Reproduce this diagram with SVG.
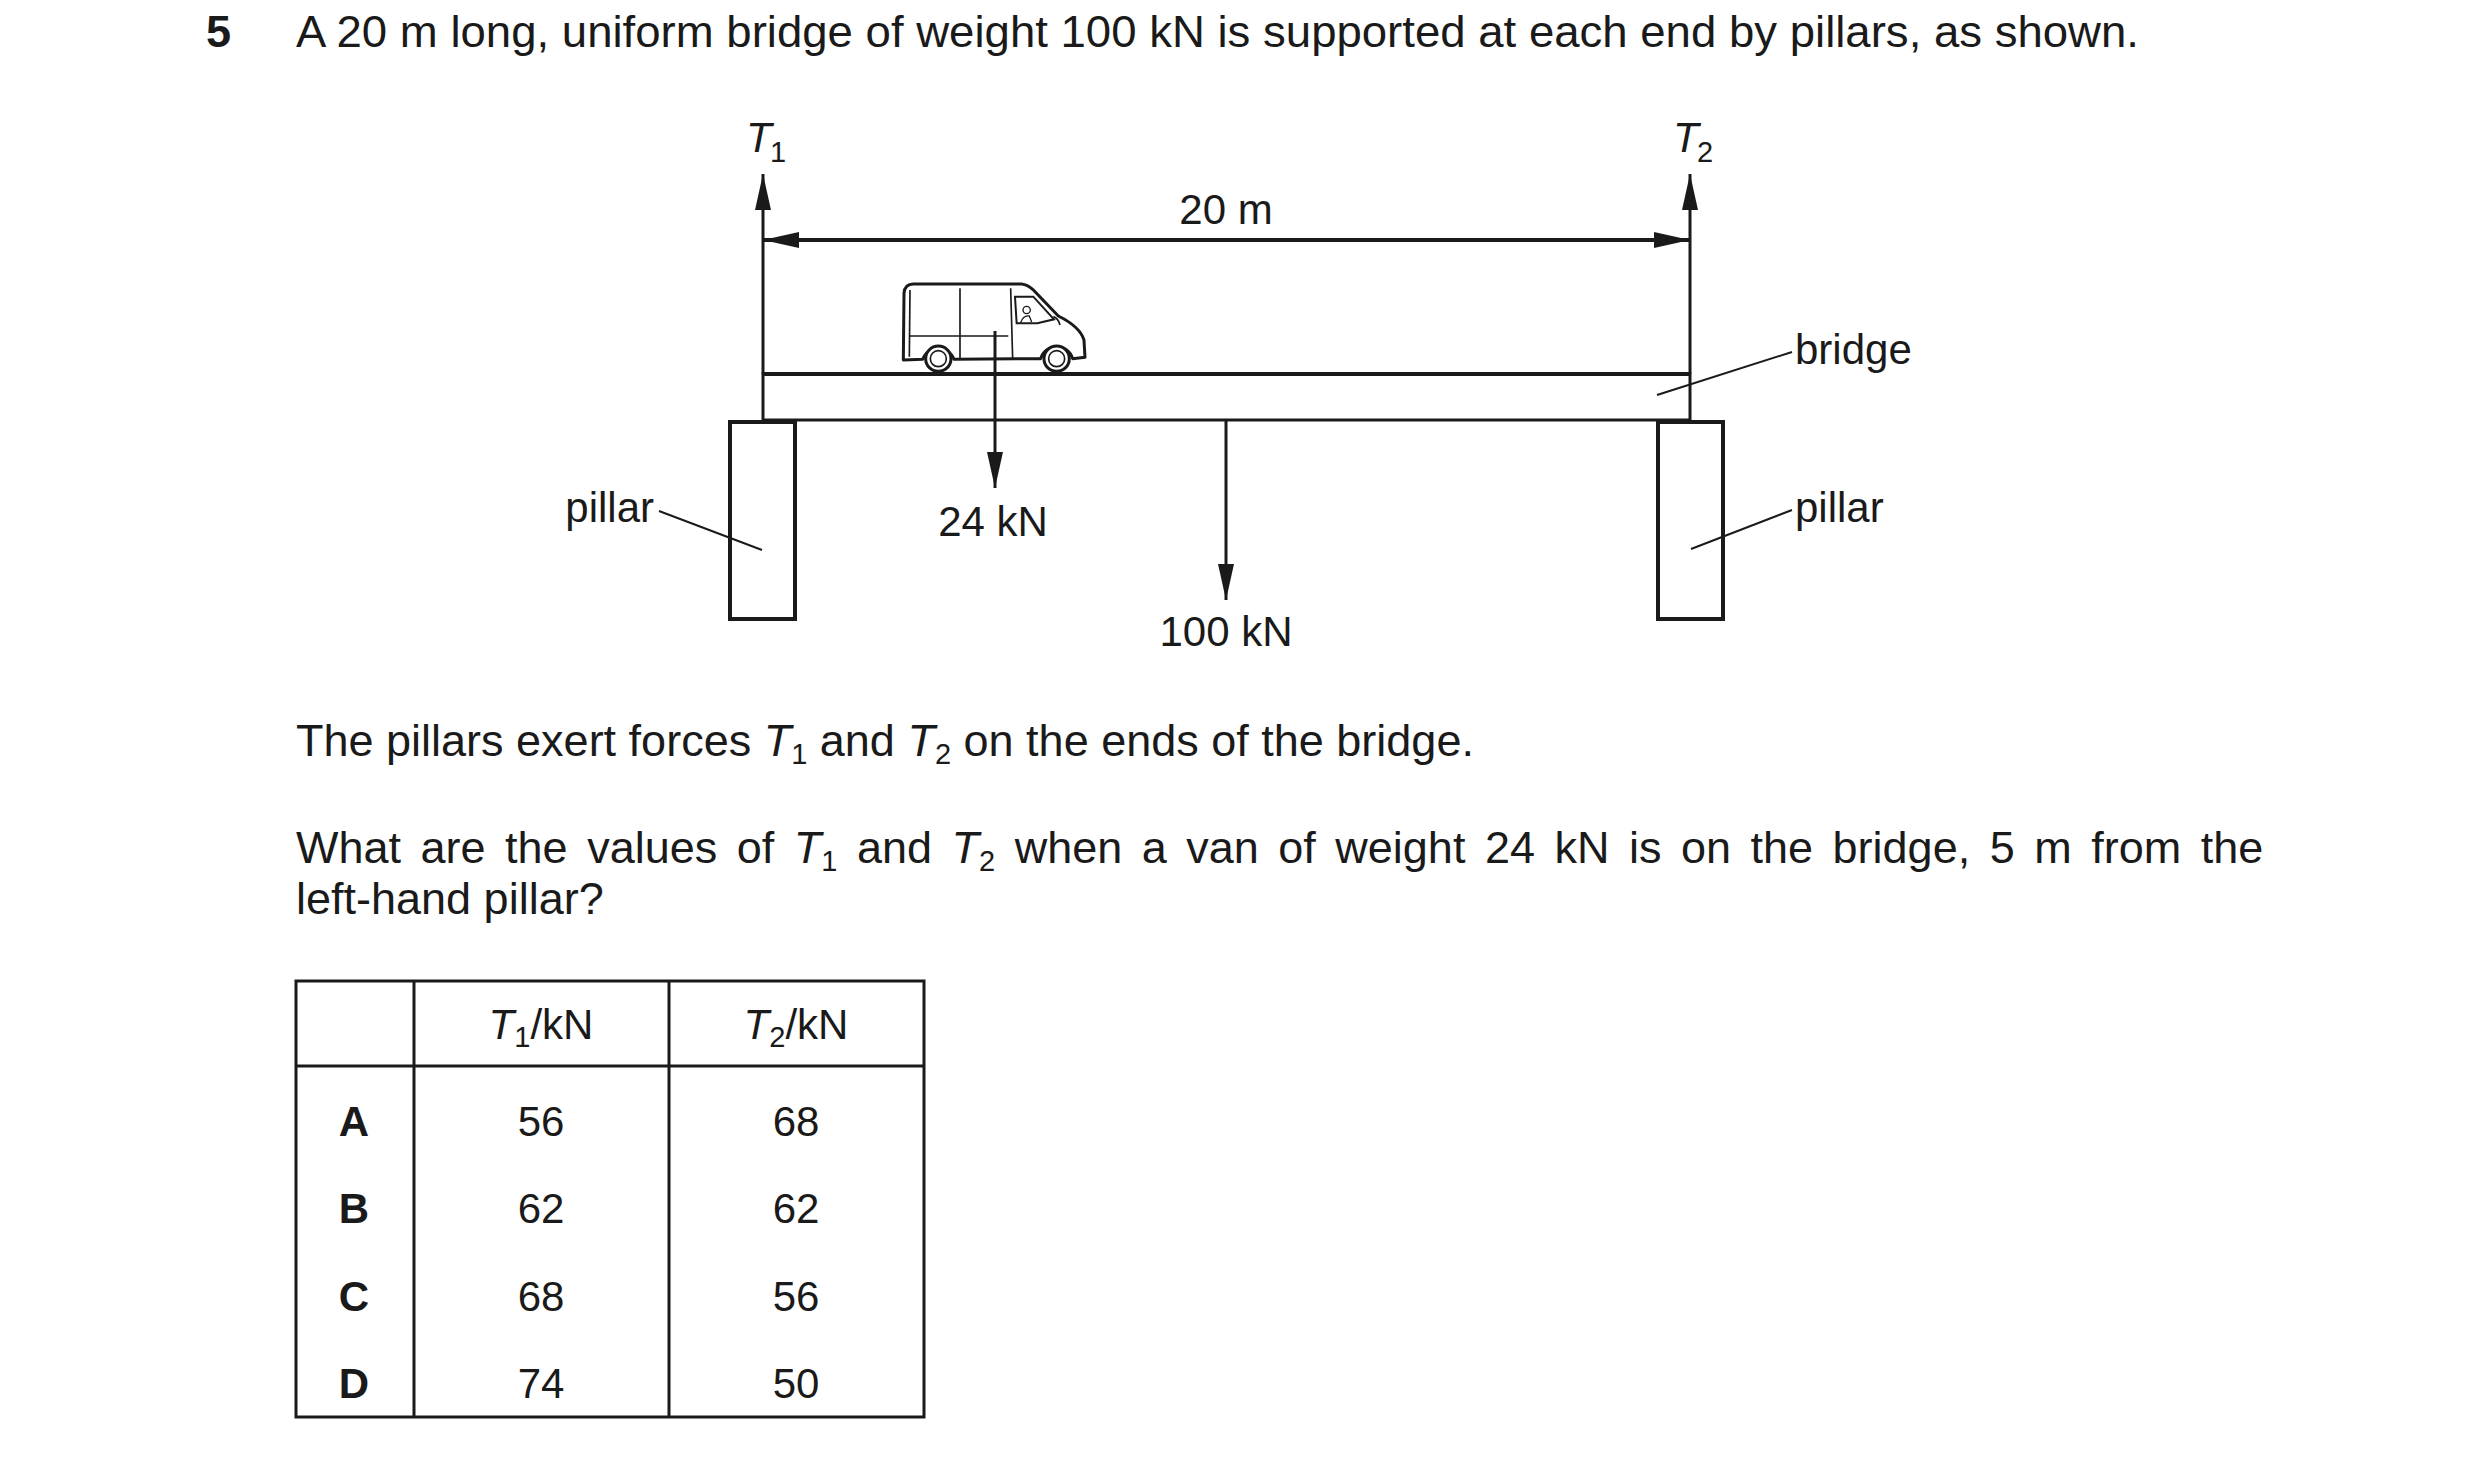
<svg xmlns="http://www.w3.org/2000/svg" width="2480" height="1458" viewBox="0 0 2480 1458">
<style>
text{font-family:"Liberation Sans",Arial,sans-serif;font-size:42px;fill:#1a1a1a}
.p{font-size:45px}
.b{font-weight:bold}
.m{text-anchor:middle}
.i{font-style:italic}
.s{font-size:29px}
.ln{stroke:#1a1a1a;stroke-width:3;fill:none}
.th{stroke:#1a1a1a;stroke-width:4;fill:none}
</style>
<defs>
<marker id="ah" markerWidth="36" markerHeight="16" refX="36" refY="8" orient="auto-start-reverse" markerUnits="userSpaceOnUse" viewBox="0 0 36 16">
<path d="M0 0 L36 8 L0 16 Z" fill="#1a1a1a"/>
</marker>
</defs>
<rect width="2480" height="1458" fill="#fff"/>
<text x="206" y="47" class="b p">5</text>
<text x="296" y="47" class="p" textLength="1843" lengthAdjust="spacingAndGlyphs">A 20 m long, uniform bridge of weight 100 kN is supported at each end by pillars, as shown.</text>

<g id="bridge">
<rect x="763" y="374" width="927" height="46" class="ln"/>
<line x1="763" y1="374" x2="1690" y2="374" class="th"/>
</g>
<g id="pillar-left"><rect x="730" y="422" width="65" height="197" class="th"/></g>
<g id="pillar-right"><rect x="1658" y="422" width="65" height="197" class="th"/></g>
<g id="van" transform="translate(880,260) scale(0.3333)">
<path d="M70 300 L72 100 Q74 72 100 72 L425 72 Q442 74 458 88 L535 168 Q600 200 612 240 L615 292 L578 296 A50 50 0 0 0 482 296 L222 298 A50 50 0 0 0 128 298 Z" fill="#fff" stroke="#1a1a1a" stroke-width="9" stroke-linejoin="round"/>
<path d="M90 90 L88 290" stroke="#1a1a1a" stroke-width="5" fill="none"/>
<path d="M240 85 L240 298 M392 85 L398 296 M88 228 L385 228" stroke="#1a1a1a" stroke-width="5" fill="none"/>
<path d="M405 110 L460 110 L522 178 L472 190 L410 190 Z" fill="#fff" stroke="#1a1a1a" stroke-width="6"/>
<circle cx="440" cy="150" r="11" fill="none" stroke="#1a1a1a" stroke-width="4"/>
<path d="M422 188 Q430 165 448 168 L455 186" fill="none" stroke="#1a1a1a" stroke-width="4"/>
<path d="M520 170 Q535 175 540 195" fill="none" stroke="#1a1a1a" stroke-width="5"/>
<circle cx="175" cy="296" r="38" fill="#fff" stroke="#1a1a1a" stroke-width="9"/>
<circle cx="175" cy="296" r="24" fill="#fff" stroke="#1a1a1a" stroke-width="5"/>
<circle cx="530" cy="296" r="38" fill="#fff" stroke="#1a1a1a" stroke-width="9"/>
<circle cx="530" cy="296" r="24" fill="#fff" stroke="#1a1a1a" stroke-width="5"/>
</g>
<g id="connectors">
<line x1="763" y1="374" x2="763" y2="174" class="ln" marker-end="url(#ah)"/>
<line x1="1690" y1="374" x2="1690" y2="174" class="ln" marker-end="url(#ah)"/>
<line x1="763" y1="240" x2="1690" y2="240" class="th" marker-start="url(#ah)" marker-end="url(#ah)"/>
<line x1="995" y1="331" x2="995" y2="488" class="ln" marker-end="url(#ah)"/>
<line x1="1226" y1="420" x2="1226" y2="600" class="ln" marker-end="url(#ah)"/>
<line x1="1657" y1="395" x2="1792" y2="352" stroke="#1a1a1a" stroke-width="2"/>
<line x1="1691" y1="549" x2="1792" y2="510" stroke="#1a1a1a" stroke-width="2"/>
<line x1="659" y1="511" x2="762" y2="550" stroke="#1a1a1a" stroke-width="2"/>
</g>
<text x="746" y="152" class="i">T</text><text x="770" y="162" class="s">1</text>
<text x="1673" y="152" class="i">T</text><text x="1697" y="162" class="s">2</text>
<text x="1226" y="224" class="m">20 m</text>
<text x="993" y="536" class="m">24 kN</text>
<text x="1226" y="646" class="m">100 kN</text>
<text x="1795" y="364">bridge</text>
<text x="1795" y="522">pillar</text>
<text x="654" y="522" text-anchor="end">pillar</text>

<text x="296" y="756" class="p">The pillars exert forces <tspan class="i">T</tspan><tspan class="s" dy="8">1</tspan><tspan dy="-8"> and </tspan><tspan class="i">T</tspan><tspan class="s" dy="8">2</tspan><tspan dy="-8"> on the ends of the bridge.</tspan></text>
<text x="296" y="863" class="p" word-spacing="7">What are the values of <tspan class="i">T</tspan><tspan class="s" dy="8">1</tspan><tspan dy="-8"> and </tspan><tspan class="i">T</tspan><tspan class="s" dy="8">2</tspan><tspan dy="-8"> when a van of weight 24 kN is on the bridge, 5 m from the</tspan></text>
<text x="296" y="914" class="p">left-hand pillar?</text>

<g id="table">
<rect x="296" y="981" width="628" height="436" class="ln" stroke-width="2"/>
<line x1="414" y1="981" x2="414" y2="1417" class="ln" stroke-width="2"/>
<line x1="669" y1="981" x2="669" y2="1417" class="ln" stroke-width="2"/>
<line x1="296" y1="1066" x2="924" y2="1066" class="ln" stroke-width="2"/>
<text x="541" y="1039" class="m"><tspan class="i">T</tspan><tspan class="s" dy="8">1</tspan><tspan dy="-8">/kN</tspan></text>
<text x="796" y="1039" class="m"><tspan class="i">T</tspan><tspan class="s" dy="8">2</tspan><tspan dy="-8">/kN</tspan></text>
<text x="354" y="1136" class="m b">A</text><text x="541" y="1136" class="m">56</text><text x="796" y="1136" class="m">68</text>
<text x="354" y="1223" class="m b">B</text><text x="541" y="1223" class="m">62</text><text x="796" y="1223" class="m">62</text>
<text x="354" y="1311" class="m b">C</text><text x="541" y="1311" class="m">68</text><text x="796" y="1311" class="m">56</text>
<text x="354" y="1398" class="m b">D</text><text x="541" y="1398" class="m">74</text><text x="796" y="1398" class="m">50</text>
</g>
</svg>
